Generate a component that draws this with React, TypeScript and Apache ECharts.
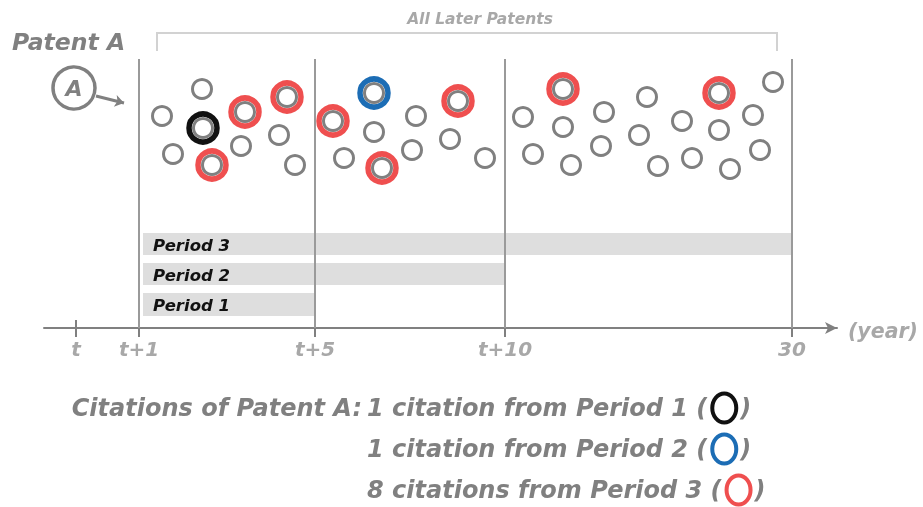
import React, { useEffect, useRef } from "react";
import * as echarts from "echarts";

// ---- data (diagram units = page pixels) ----
const boundaries = [139, 315, 505, 792];
const tickValues = [76, 139, 315, 505, 792];
const tickLabels = ["t", "t+1", "t+5", "t+10", "30"];
const periodLabels = ["Period 3", "Period 2", "Period 1"];
const periodEnds = [792, 505, 315];
const periodRows = [[233, 255], [263, 285], [293, 316]];

const laterPatents: [number, number][] = [
  [162, 116], [202, 89], [203, 128], [173, 154], [212, 165], [245, 112], [241, 146], [287, 97], [279, 135], [295, 165],
  [333, 121], [374, 93], [374, 132], [344, 158], [382, 168], [416, 116], [412, 150], [458, 101], [450, 139], [485, 158],
  [523, 117], [563, 89], [563, 127], [533, 154], [571, 165], [604, 112], [601, 146], [647, 97], [639, 135], [658, 166],
  [682, 121], [692, 158], [719, 93], [719, 130], [730, 169], [753, 115], [760, 150], [773, 82],
];
const citedPeriod1: [number, number][] = [[203, 128]];
const citedPeriod2: [number, number][] = [[374, 93]];
const citedPeriod3: [number, number][] = [
  [212, 165], [245, 112], [287, 97], [333, 121], [382, 168], [458, 101], [563, 89], [719, 93],
];
const patentA: [number, number][] = [[74, 88]];
const legendLines = ["1 citation from Period 1 (", "1 citation from Period 2 (", "8 citations from Period 3 ("];

const GRAY = "#808080";
const LIGHT = "#a8a8a8";
const RED = "#ef4f4f";
const BLUE = "#1c6db5";
const BLACK = "#111111";
const FONT = "DejaVu Sans";

export default function App() {
  const ref = useRef<HTMLDivElement>(null);
  useEffect(() => {
    const chart = echarts.init(ref.current!, null, { renderer: "svg" });
    const ring = (name: string, data: [number, number][], color: string) => ({
      type: "scatter",
      name,
      data,
      symbol: "circle",
      symbolSize: 28,
      silent: true,
      z: 3,
      itemStyle: { color: "rgba(0,0,0,0)", borderColor: color, borderWidth: 5.5, opacity: 1 },
    });
    const LEG_SIZE = 24;
    const legStyle = { fill: GRAY, fontFamily: FONT, fontSize: LEG_SIZE, fontWeight: "bold", fontStyle: "italic", verticalAlign: "middle" };
    const measure = (text: string) => {
      const t = new (echarts.graphic as any).Text({ style: { ...legStyle, text } });
      return t.getBoundingRect().width;
    };
    const legendColors = [BLACK, BLUE, RED];
    const legendYs = [408, 449, 490];
    const legendGraphics: any[] = [];
    legendLines.forEach((txt, i) => {
      const x0 = 367;
      const w = measure(txt);
      const y = legendYs[i];
      legendGraphics.push(
        { type: "text", x: x0, y, style: { ...legStyle, text: txt } },
        { type: "ellipse", shape: { cx: x0 + w + 17, cy: y, rx: 12, ry: 14.5 }, style: { fill: "none", stroke: legendColors[i], lineWidth: 4 } },
        { type: "text", x: x0 + w + 33, y, style: { ...legStyle, text: ")" } },
      );
    });
    chart.setOption({
      animation: false,
      grid: { left: 44, right: 86, top: 0, bottom: 179 },
      xAxis: {
        type: "value",
        min: 44,
        max: 837,
        splitLine: { show: false },
        axisLine: {
          onZero: false,
          lineStyle: { color: GRAY, width: 2 },
          symbol: ["none", "arrow"],
          symbolSize: [9, 12],
        },
        axisTick: { customValues: tickValues, length: 9, lineStyle: { color: GRAY, width: 2 } },
        axisLabel: {
          customValues: tickValues,
          margin: 11,
          color: LIGHT,
          fontFamily: FONT,
          fontSize: 20,
          fontWeight: "bold",
          fontStyle: "italic",
          formatter: (v: number) => tickLabels[tickValues.indexOf(v)] ?? "",
        },
      },
      yAxis: { type: "value", min: 0, max: 328, inverse: true, show: false },
      series: [
        {
          type: "custom",
          silent: true,
          z: 1,
          data: periodLabels.map((_, i) => [143, periodEnds[i], periodRows[i][0], periodRows[i][1]]),
          renderItem: (params: any, api: any) => {
            const p0 = api.coord([api.value(0), api.value(2)]);
            const p1 = api.coord([api.value(1), api.value(3)]);
            return {
              type: "group",
              children: [
                { type: "rect", shape: { x: p0[0], y: p0[1], width: p1[0] - p0[0], height: p1[1] - p0[1] }, style: { fill: "#dedede" } },
                {
                  type: "text",
                  style: {
                    text: periodLabels[params.dataIndex],
                    x: p0[0] + 10,
                    y: (p0[1] + p1[1]) / 2 + 1,
                    verticalAlign: "middle",
                    fill: BLACK,
                    fontFamily: FONT,
                    fontSize: 16.5,
                    fontWeight: "bold",
                    fontStyle: "italic",
                  },
                },
              ],
            };
          },
        },
        {
          type: "lines",
          coordinateSystem: "cartesian2d",
          silent: true,
          z: 2,
          lineStyle: { color: "#9a9a9a", width: 2, opacity: 1 },
          data: [
            ...boundaries.map((x) => ({ coords: [[x, 59], [x, 328]] })),
            { coords: [[76, 320], [76, 328]], lineStyle: { color: GRAY } },
          ],
        },
        {
          type: "lines",
          coordinateSystem: "cartesian2d",
          polyline: true,
          silent: true,
          z: 2,
          lineStyle: { color: "#d2d2d2", width: 2, opacity: 1 },
          data: [{ coords: [[157, 51], [157, 33], [777, 33], [777, 51]] }],
        },
        {
          type: "lines",
          coordinateSystem: "cartesian2d",
          silent: true,
          z: 2,
          symbol: ["none", "arrow"],
          symbolSize: 9,
          lineStyle: { color: GRAY, width: 3, opacity: 1 },
          data: [{ coords: [[96, 96], [124, 103]] }],
        },
        ring("Period 1", citedPeriod1, BLACK),
        ring("Period 2", citedPeriod2, BLUE),
        ring("Period 3", citedPeriod3, RED),
        {
          type: "scatter",
          name: "Later patents",
          data: laterPatents,
          symbol: "circle",
          symbolSize: 19,
          silent: true,
          z: 4,
          itemStyle: { color: "rgba(0,0,0,0)", borderColor: GRAY, borderWidth: 3, opacity: 1 },
        },
        {
          type: "scatter",
          name: "Patent A",
          data: patentA,
          symbol: "circle",
          symbolSize: 42,
          silent: true,
          z: 4,
          itemStyle: { color: "#fff", borderColor: GRAY, borderWidth: 3.5, opacity: 1 },
          label: {
            show: true,
            position: "inside",
            formatter: "A",
            color: GRAY,
            fontFamily: FONT,
            fontSize: 22,
            fontWeight: "bold",
            fontStyle: "italic",
          },
        },
      ],
      graphic: [
        {
          type: "text",
          x: 12,
          y: 42,
          style: { text: "Patent A", verticalAlign: "middle", fill: GRAY, fontFamily: FONT, fontSize: 23.5, fontWeight: "bold", fontStyle: "italic" },
        },
        {
          type: "text",
          x: 480,
          y: 19,
          style: { text: "All Later Patents", align: "center", verticalAlign: "middle", fill: LIGHT, fontFamily: FONT, fontSize: 15.5, fontWeight: "bold", fontStyle: "italic" },
        },
        {
          type: "text",
          x: 848,
          y: 331,
          style: { text: "(year)", verticalAlign: "middle", fill: LIGHT, fontFamily: FONT, fontSize: 20.5, fontWeight: "bold", fontStyle: "italic" },
        },
        {
          type: "text",
          x: 362,
          y: 408,
          style: { ...legStyle, text: "Citations of Patent A:", align: "right" },
        },
        ...legendGraphics,
      ],
    });
    return () => chart.dispose();
  }, []);
  return <div ref={ref} style={{ position: "fixed", left: 0, top: 0, width: 923, height: 507 }} />;
}
